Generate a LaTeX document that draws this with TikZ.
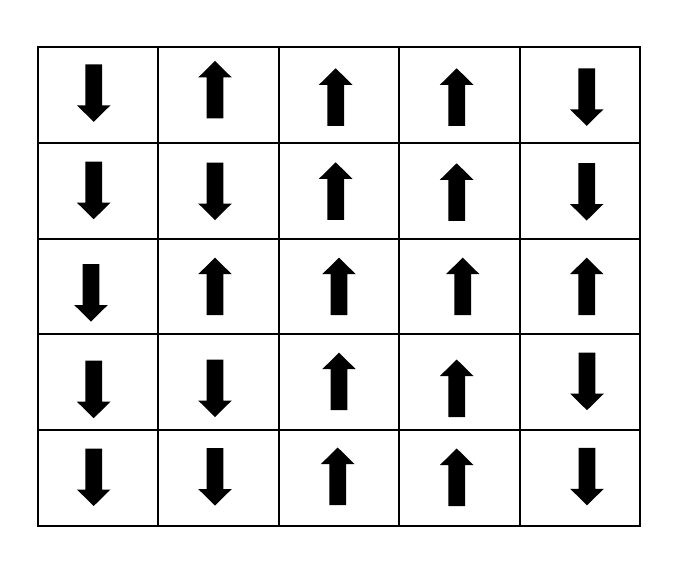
\documentclass[tikz,border=0pt]{standalone}
\begin{document}
\begin{tikzpicture}[x=1pt,y=-1pt,
  gridline/.style={draw=black,line width=2pt},
  spin/.style={fill=black,draw=none}]
\useasboundingbox (0,0) rectangle (684,580);
% grid
\foreach \x in {38,158.4,278.8,399.2,519.6,640}{
  \draw[gridline] (\x,47.3) -- (\x,526);
}
\foreach \y in {47.3,143,238.7,334.4,430.2,526}{
  \draw[gridline] (38,\y) -- (640,\y);
}
\draw[gridline,line cap=rect] (38,47.3) rectangle (640,526);
% arrows: \spindn{x}{top}, \spinup{x}{tip}
\newcommand\spindn[2]{\fill[spin] (#1-8.4,#2) -- (#1+8.4,#2) -- (#1+8.4,#2+41) -- (#1+16.8,#2+41) -- (#1,#2+57.5) -- (#1-16.8,#2+41) -- (#1-8.4,#2+41) -- cycle;}
\newcommand\spinup[2]{\fill[spin] (#1,#2) -- (#1+16.8,#2+16.5) -- (#1+8.4,#2+16.5) -- (#1+8.4,#2+57.5) -- (#1-8.4,#2+57.5) -- (#1-8.4,#2+16.5) -- (#1-16.8,#2+16.5) -- cycle;}
% row 1
\spindn{93.7}{64.3}
\spinup{215}{61}
\spinup{335.7}{68.3}
\spinup{456.7}{68.3}
\spindn{586.7}{68.3}
% row 2
\spindn{93.7}{161.7}
\spindn{215}{162.5}
\spinup{335.7}{162.3}
\spinup{456.7}{163.3}
\spindn{586.7}{163}
% row 3
\spindn{91}{264}
\spinup{215}{257.7}
\spinup{339}{257.7}
\spinup{462.7}{257.7}
\spinup{586.7}{257.7}
% row 4
\spindn{93.7}{360.7}
\spindn{215}{359.5}
\spinup{339}{352.7}
\spinup{456.7}{359.5}
\spindn{587}{352.7}
% row 5
\spindn{93.7}{448.5}
\spindn{215}{448}
\spinup{337.7}{447.5}
\spinup{456.7}{448.5}
\spindn{587}{447.8}
\end{tikzpicture}
\end{document}
